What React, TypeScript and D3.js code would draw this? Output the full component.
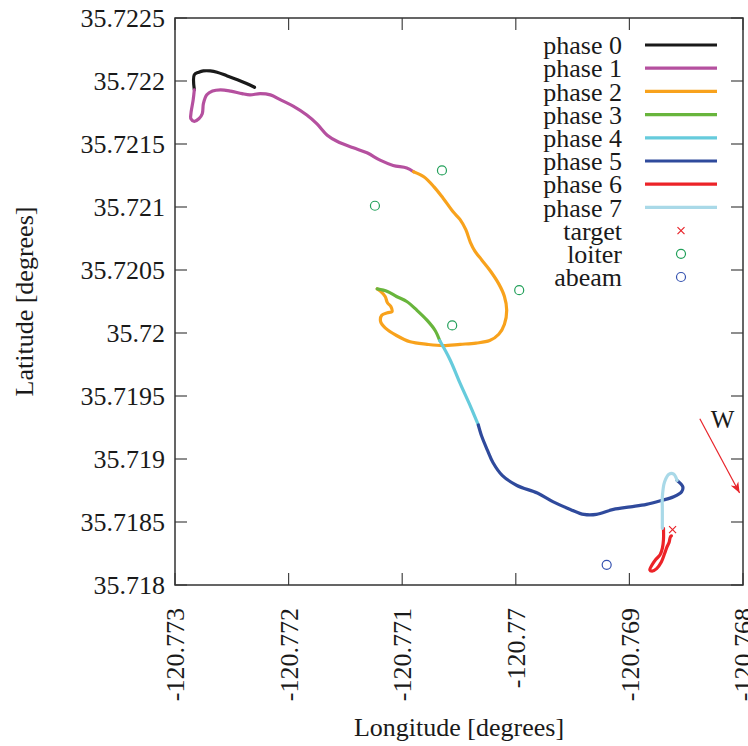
import React, { useEffect, useRef } from 'react';
import * as d3 from 'd3';

// flight track, one array per phase: [longitude, latitude]
const phase0 = [
  [-120.7723, 35.72195], [-120.77237, 35.72198], [-120.77245, 35.72201], [-120.77254, 35.72204],
  [-120.77263, 35.72207], [-120.77269, 35.72208], [-120.77275, 35.72208], [-120.77279, 35.72207],
  [-120.77283, 35.72205], [-120.77283, 35.72193],
];
const phase1 = [
  [-120.77283, 35.72193], [-120.77284, 35.72185], [-120.77286, 35.72174], [-120.77286, 35.7217],
  [-120.77283, 35.72168], [-120.77279, 35.7217], [-120.77276, 35.72174], [-120.77275, 35.72182],
  [-120.77272, 35.72189], [-120.77267, 35.72192], [-120.7726, 35.72193], [-120.77251, 35.72192],
  [-120.77241, 35.7219], [-120.77234, 35.72189], [-120.77225, 35.7219], [-120.77216, 35.72189],
  [-120.77207, 35.72185], [-120.77196, 35.7218], [-120.77184, 35.72173], [-120.77175, 35.72166],
  [-120.77166, 35.72157], [-120.77157, 35.72152], [-120.77143, 35.72147], [-120.77131, 35.72143],
  [-120.77119, 35.72137], [-120.77108, 35.72133], [-120.77096, 35.72131], [-120.7709, 35.72128],
];
const phase2 = [
  [-120.7709, 35.72128], [-120.77081, 35.72124], [-120.77072, 35.72116], [-120.77064, 35.72107],
  [-120.77055, 35.72096], [-120.77049, 35.7209], [-120.77044, 35.72082], [-120.7704, 35.72072],
  [-120.77036, 35.72065], [-120.7703, 35.72058], [-120.77023, 35.7205], [-120.77015, 35.72039],
  [-120.7701, 35.72029], [-120.77008, 35.72018], [-120.7701, 35.72007], [-120.77015, 35.71999],
  [-120.77023, 35.71994], [-120.77035, 35.71992], [-120.77049, 35.71991], [-120.77064, 35.7199],
  [-120.77078, 35.71991], [-120.77093, 35.71993], [-120.77105, 35.71998], [-120.77115, 35.72004],
  [-120.77119, 35.72009], [-120.77118, 35.72014], [-120.77113, 35.72016], [-120.77109, 35.72017],
  [-120.7711, 35.72021], [-120.77113, 35.72024], [-120.77115, 35.72029], [-120.77119, 35.72033],
  [-120.77122, 35.72035],
];
const phase3 = [
  [-120.77122, 35.72035], [-120.77113, 35.72033], [-120.77105, 35.72029], [-120.77096, 35.72025],
  [-120.77087, 35.72018], [-120.77078, 35.7201], [-120.77071, 35.72002], [-120.77067, 35.71994],
];
const phase4 = [
  [-120.77067, 35.71994], [-120.77058, 35.71979], [-120.77049, 35.7196], [-120.7704, 35.71942],
  [-120.77033, 35.71927],
];
const phase5 = [
  [-120.77033, 35.71927], [-120.7703, 35.71918], [-120.77025, 35.71907], [-120.7702, 35.71897],
  [-120.77012, 35.71887], [-120.76999, 35.71879], [-120.76981, 35.71873], [-120.76967, 35.71866],
  [-120.76952, 35.7186], [-120.7694, 35.71856], [-120.76929, 35.71856], [-120.76914, 35.7186],
  [-120.76899, 35.71862], [-120.76885, 35.71864], [-120.76872, 35.71867], [-120.76861, 35.7187],
  [-120.76854, 35.71874], [-120.76853, 35.71878], [-120.76858, 35.71883],
];
const phase6 = [
  [-120.7687, 35.71845], [-120.7687, 35.71836], [-120.76871, 35.71829], [-120.76873, 35.71824],
  [-120.76877, 35.7182], [-120.7688, 35.71816], [-120.76882, 35.71812], [-120.7688, 35.71811],
  [-120.76876, 35.71813], [-120.76872, 35.71818], [-120.76869, 35.71825], [-120.76867, 35.7183],
  [-120.76865, 35.71834], [-120.76864, 35.71838], [-120.76863, 35.71839],
];
const phase7 = [
  [-120.76858, 35.71883], [-120.76861, 35.71888], [-120.76865, 35.71888], [-120.76869, 35.71882],
  [-120.76871, 35.7187], [-120.76871, 35.7186], [-120.76871, 35.71845],
];

const targets = [[-120.76862, 35.71844]];
const loiters = [
  [-120.77065, 35.72129], [-120.77124, 35.72101], [-120.76997, 35.72034], [-120.77056, 35.72006],
];
const abeams = [[-120.7692, 35.71816]];

const phases = [phase0, phase1, phase2, phase3, phase4, phase5, phase6, phase7];
const phaseNames = ['phase 0', 'phase 1', 'phase 2', 'phase 3', 'phase 4', 'phase 5', 'phase 6', 'phase 7'];
const phaseColors = ['#1a1a1a', '#b5509f', '#f8a21c', '#68b53c', '#66cbdc', '#2f4a9c', '#ec2328', '#a9d9e8'];

const xTicks = [-120.773, -120.772, -120.771, -120.77, -120.769, -120.768];
const yTicks = [35.718, 35.7185, 35.719, 35.7195, 35.72, 35.7205, 35.721, 35.7215, 35.722, 35.7225];

// wind arrow (start, end) and its label
const wind = [[-120.76838, 35.71932], [-120.76803, 35.71873]];
const windLabel = [-120.76818, 35.71925];

const FONT = '"Liberation Serif", "Times New Roman", serif';

const App = () => {
  const svgRef = useRef(null);

  useEffect(() => {
    const svg = d3.select(svgRef.current);
    svg.selectAll('*').remove();

    const left = 175, right = 743, top = 18, bottom = 585;
    const x = d3.scaleLinear().domain([-120.773, -120.768]).range([left, right]);
    const y = d3.scaleLinear().domain([35.718, 35.7225]).range([bottom, top]);

    const defs = svg.append('defs');
    defs.append('marker')
      .attr('id', 'arrow')
      .attr('viewBox', '0 0 10 10')
      .attr('refX', 10).attr('refY', 5)
      .attr('markerWidth', 9).attr('markerHeight', 9)
      .attr('orient', 'auto')
      .append('path')
      .attr('d', 'M0,1 L10,5 L0,9 L3,5 Z')
      .attr('fill', '#e8242a');

    // ticks (inward on all four sides)
    const tickLen = 12;
    const g = svg.append('g').attr('stroke', '#444').attr('stroke-width', 1.2);
    xTicks.forEach(t => {
      g.append('line').attr('x1', x(t)).attr('x2', x(t)).attr('y1', bottom).attr('y2', bottom - tickLen);
      g.append('line').attr('x1', x(t)).attr('x2', x(t)).attr('y1', top).attr('y2', top + tickLen);
    });
    yTicks.forEach(t => {
      g.append('line').attr('x1', left).attr('x2', left + tickLen).attr('y1', y(t)).attr('y2', y(t));
      g.append('line').attr('x1', right).attr('x2', right - tickLen).attr('y1', y(t)).attr('y2', y(t));
    });

    const line = d3.line().x(d => x(d[0])).y(d => y(d[1])).curve(d3.curveCatmullRom);

    phases.forEach((p, i) => {
      svg.append('path')
        .datum(p)
        .attr('fill', 'none')
        .attr('stroke', phaseColors[i])
        .attr('stroke-width', 3.2)
        .attr('stroke-linecap', 'round')
        .attr('stroke-linejoin', 'round')
        .attr('d', line);
    });

    const drawCross = (sel, cx, cy, r) => {
      sel.append('path')
        .attr('d', `M${cx - r},${cy - r}L${cx + r},${cy + r}M${cx - r},${cy + r}L${cx + r},${cy - r}`)
        .attr('stroke', '#e8242a').attr('stroke-width', 1.2).attr('fill', 'none');
    };

    targets.forEach(d => drawCross(svg, x(d[0]), y(d[1]), 3.5));
    svg.selectAll('.loiter').data(loiters).enter().append('circle')
      .attr('cx', d => x(d[0])).attr('cy', d => y(d[1])).attr('r', 4.5)
      .attr('fill', 'none').attr('stroke', '#22a05a').attr('stroke-width', 1.2);
    svg.selectAll('.abeam').data(abeams).enter().append('circle')
      .attr('cx', d => x(d[0])).attr('cy', d => y(d[1])).attr('r', 4.5)
      .attr('fill', 'none').attr('stroke', '#3552b0').attr('stroke-width', 1.2);

    // wind
    svg.append('line')
      .attr('x1', x(wind[0][0])).attr('y1', y(wind[0][1]))
      .attr('x2', x(wind[1][0])).attr('y2', y(wind[1][1]))
      .attr('stroke', '#e8242a').attr('stroke-width', 1.2)
      .attr('marker-end', 'url(#arrow)');
    svg.append('text')
      .attr('x', x(windLabel[0])).attr('y', y(windLabel[1]))
      .attr('text-anchor', 'middle')
      .attr('font-family', FONT).attr('font-size', 25)
      .attr('fill', '#1a1a1a')
      .text('W');

    // frame
    svg.append('rect')
      .attr('x', left).attr('y', top).attr('width', right - left).attr('height', bottom - top)
      .attr('fill', 'none').attr('stroke', '#333').attr('stroke-width', 1.5);

    // tick labels (plain hyphen for the minus, as in the original)
    yTicks.forEach(t => {
      svg.append('text')
        .attr('x', left - 10).attr('y', y(t))
        .attr('dy', '0.35em')
        .attr('text-anchor', 'end')
        .attr('font-family', FONT).attr('font-size', 26)
        .attr('fill', '#1a1a1a')
        .text(String(t));
    });
    xTicks.forEach(t => {
      svg.append('text')
        .attr('transform', `translate(${x(t)},${bottom + 23}) rotate(-90)`)
        .attr('dy', '0.35em')
        .attr('text-anchor', 'end')
        .attr('font-family', FONT).attr('font-size', 26)
        .attr('fill', '#1a1a1a')
        .text(String(t));
    });

    // axis titles
    svg.append('text')
      .attr('x', (left + right) / 2).attr('y', 736)
      .attr('text-anchor', 'middle')
      .attr('font-family', FONT).attr('font-size', 26)
      .attr('fill', '#1a1a1a')
      .text('Longitude [degrees]');
    svg.append('text')
      .attr('transform', `translate(33,${(top + bottom) / 2}) rotate(-90)`)
      .attr('text-anchor', 'middle')
      .attr('font-family', FONT).attr('font-size', 26)
      .attr('fill', '#1a1a1a')
      .text('Latitude [degrees]');

    // legend
    const rowH = 23.2;
    const leg = svg.append('g');
    const legendNames = [...phaseNames, 'target', 'loiter', 'abeam'];
    legendNames.forEach((name, i) => {
      const ly = 45 + i * rowH;
      leg.append('text')
        .attr('x', 622).attr('y', ly)
        .attr('dy', '0.35em')
        .attr('text-anchor', 'end')
        .attr('font-family', FONT).attr('font-size', 26)
        .attr('fill', '#1a1a1a')
        .text(name);
      if (i < phases.length) {
        leg.append('line')
          .attr('x1', 645).attr('x2', 717).attr('y1', ly).attr('y2', ly)
          .attr('stroke', phaseColors[i]).attr('stroke-width', 3.2);
      } else if (name === 'target') {
        drawCross(leg, 681, ly, 3.5);
      } else {
        leg.append('circle')
          .attr('cx', 681).attr('cy', ly).attr('r', 4.5)
          .attr('fill', 'none')
          .attr('stroke', name === 'loiter' ? '#22a05a' : '#3552b0')
          .attr('stroke-width', 1.2);
      }
    });
  }, []);

  return (
    <svg
      ref={svgRef}
      width={748}
      height={746}
      style={{ position: 'absolute', left: 0, top: 0, background: '#fff' }}
    />
  );
};

export default App;
